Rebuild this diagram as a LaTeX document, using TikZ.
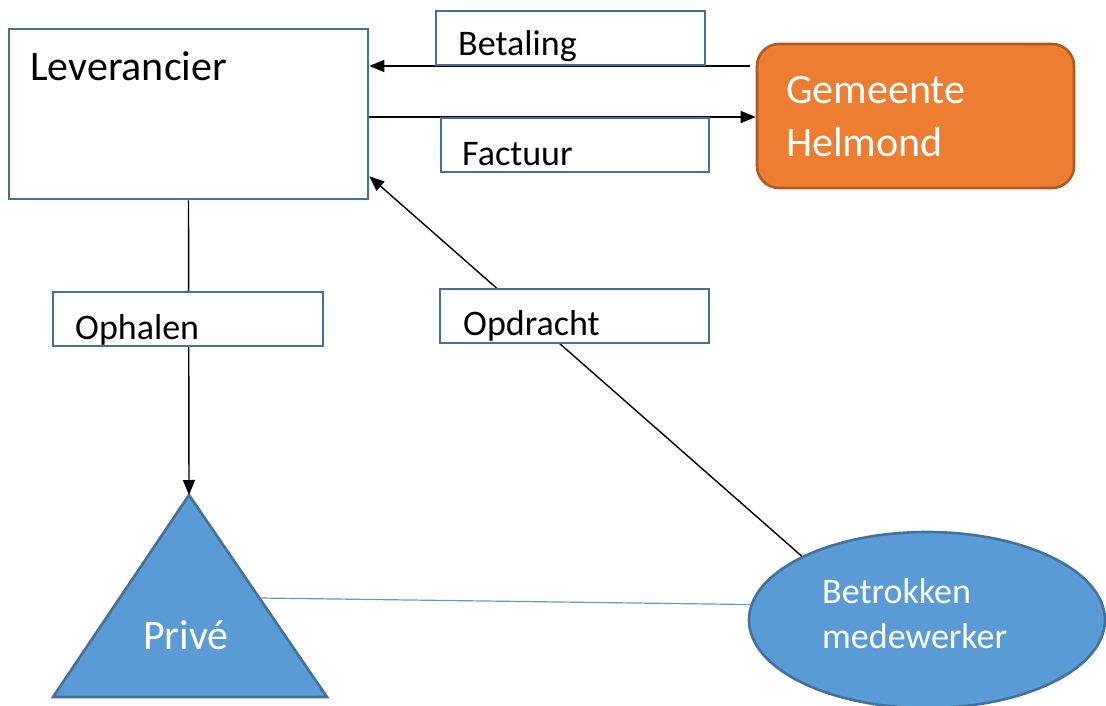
\documentclass[tikz,border=0pt]{standalone}
\usepackage{fontspec}
\setmainfont{Carlito}
\usetikzlibrary{shapes.geometric,arrows.meta,calc}
\definecolor{boxline}{RGB}{65,113,156}
\definecolor{orfill}{RGB}{237,125,49}
\definecolor{orline}{RGB}{174,90,33}
\definecolor{blfill}{RGB}{91,155,213}
\definecolor{blline}{RGB}{65,113,156}
\tikzset{
  arr/.style={draw=black,line width=1.4pt,-{Triangle[length=15pt,width=12pt]}},
  lbox/.style={draw=boxline,line width=2.6pt,fill=white,rectangle,inner sep=0pt},
  big/.style={inner sep=0pt,anchor=base west,font=\fontsize{42}{50}\selectfont},
  mid/.style={inner sep=0pt,anchor=base west,font=\fontsize{36}{43}\selectfont},
}
\begin{document}
\begin{tikzpicture}[x=1pt,y=-1pt]
\useasboundingbox (0,0) rectangle (1106,706);
% main shapes
\node[lbox,minimum width=359pt,minimum height=170pt] (lev) at (188.5,114) {};
\node[draw=orline,fill=orfill,line width=2.6pt,rounded corners=22pt,minimum width=317pt,minimum height=144pt,inner sep=0pt] (gem) at (915.5,116) {};
\coordinate (tA) at (189,495);
\coordinate (tR) at (327,697);
\coordinate (tL) at (53,697);
\draw[draw=blline,fill=blfill,line width=2.6pt,line join=miter] (tA) -- (tR) -- (tL) -- cycle;
\coordinate (tS) at (260,598);
\node[ellipse,draw=blline,fill=blfill,line width=2.6pt,minimum width=356pt,minimum height=176pt,inner sep=0pt] (bm) at (927,620) {};
% connectors
\coordinate (betY) at (0,66);
\coordinate (facY) at (0,117);
\coordinate (levOp) at ($(lev.south east)+(0,-24)$);
\draw[arr] ($(gem.west |- betY)+(-6,0)$) -- (lev.east |- betY);
\draw[arr] (lev.east |- facY) -- (gem.west |- facY);
\draw[arr] (lev.south) -- (tA);
\draw[arr] (bm.153) -- (levOp);
\draw[draw=blfill,line width=1.2pt] (tS) -- (bm.175);
% label boxes
\node[lbox,minimum width=269pt,minimum height=54pt] (bet) at (570.5,38) {};
\node[lbox,minimum width=268pt,minimum height=54pt] (fac) at (575,145) {};
\node[lbox,minimum width=270pt,minimum height=54pt] (oph) at (188,319) {};
\node[lbox,minimum width=269pt,minimum height=54pt] (opd) at (574.5,316) {};
% texts
\node[big] (tlev) at (30,81) {Leverancier};
\node[mid] (tbet) at (458,56) {Betaling};
\node[mid] (tfac) at (462,165) {Factuur};
\node[mid] (toph) at (75,339) {Ophalen};
\node[mid] (topd) at (463,335) {Opdracht};
\node[big,text=white] (tgem1) at (786,104) {Gemeente};
\node[big,text=white] (tgem2) at (786,157) {Helmond};
\node[big,text=white] (tpri) at (143,649) {Privé};
\node[mid,text=white] (tbm1) at (822,603) {Betrokken};
\node[mid,text=white] (tbm2) at (822,648) {medewerker};
\end{tikzpicture}
\end{document}
